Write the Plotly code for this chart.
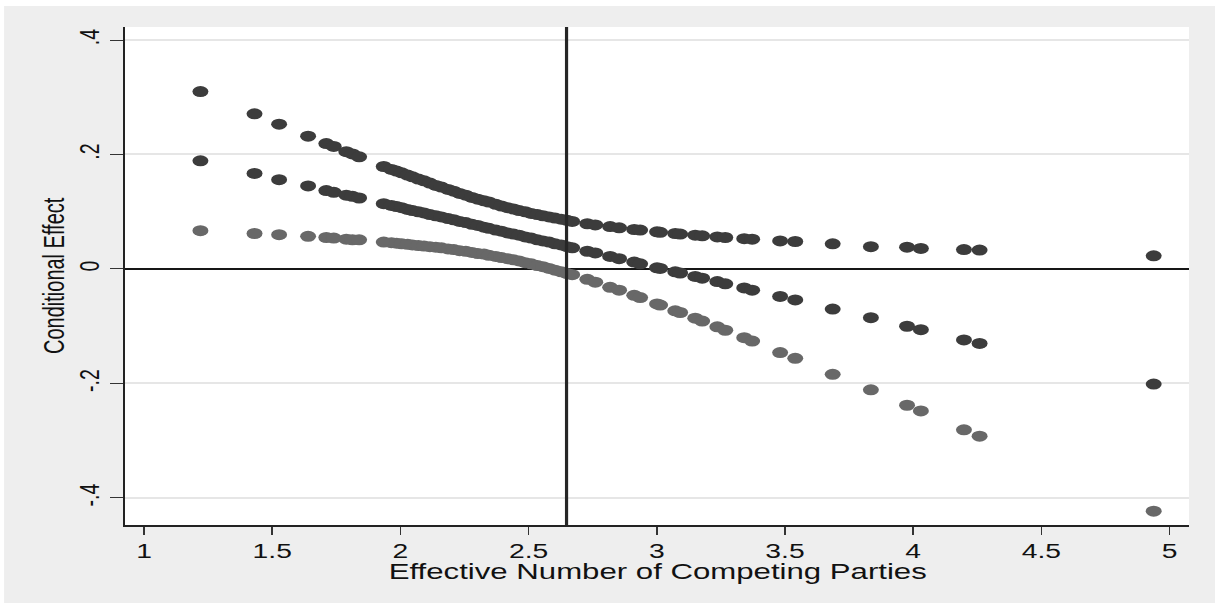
import plotly.graph_objects as go

# Effective number of competing parties (x) and the conditional effect
# with its upper / lower confidence bounds
enp = [1.220, 1.431, 1.527, 1.640, 1.711, 1.740, 1.789, 1.813, 1.839, 1.935,
       1.965, 1.985, 2.005, 2.028, 2.047, 2.070, 2.092, 2.115, 2.138, 2.160,
       2.186, 2.208, 2.231, 2.255, 2.279, 2.302, 2.326, 2.345, 2.372, 2.394,
       2.418, 2.441, 2.463, 2.487, 2.510, 2.534, 2.556, 2.580, 2.603, 2.627,
       2.650, 2.670, 2.729, 2.760, 2.818, 2.853, 2.912, 2.935, 3.001, 3.013,
       3.072, 3.091, 3.150, 3.177, 3.236, 3.267, 3.341, 3.372, 3.481, 3.540,
       3.686, 3.835, 3.976, 4.030, 4.198, 4.259, 4.938]

effect = [0.189, 0.167, 0.156, 0.145, 0.137, 0.134, 0.129, 0.127, 0.124, 0.114,
          0.111, 0.109, 0.107, 0.104, 0.102, 0.100, 0.098, 0.095, 0.093, 0.091,
          0.088, 0.086, 0.083, 0.081, 0.078, 0.076, 0.073, 0.071, 0.068, 0.066,
          0.063, 0.061, 0.059, 0.056, 0.054, 0.051, 0.049, 0.047, 0.044, 0.042,
          0.039, 0.037, 0.031, 0.028, 0.022, 0.018, 0.012, 0.009, 0.002, 0.001,
          -0.005, -0.007, -0.013, -0.016, -0.022, -0.026, -0.033, -0.037, -0.048, -0.054,
          -0.070, -0.085, -0.100, -0.106, -0.124, -0.130, -0.201]

upper = [0.310, 0.271, 0.253, 0.232, 0.219, 0.214, 0.205, 0.201, 0.196, 0.179,
         0.174, 0.171, 0.168, 0.164, 0.161, 0.157, 0.154, 0.150, 0.146, 0.143,
         0.139, 0.136, 0.132, 0.129, 0.125, 0.122, 0.119, 0.117, 0.113, 0.110,
         0.107, 0.105, 0.102, 0.100, 0.097, 0.095, 0.093, 0.091, 0.089, 0.087,
         0.085, 0.083, 0.079, 0.077, 0.074, 0.072, 0.069, 0.068, 0.065, 0.064,
         0.062, 0.061, 0.059, 0.058, 0.056, 0.055, 0.053, 0.052, 0.049, 0.048,
         0.044, 0.039, 0.038, 0.036, 0.034, 0.033, 0.023]

lower = [0.067, 0.062, 0.060, 0.057, 0.055, 0.054, 0.052, 0.051, 0.051, 0.047,
         0.046, 0.045, 0.044, 0.043, 0.042, 0.041, 0.040, 0.039, 0.038, 0.037,
         0.035, 0.034, 0.032, 0.031, 0.029, 0.027, 0.026, 0.024, 0.022, 0.020,
         0.018, 0.016, 0.014, 0.011, 0.009, 0.006, 0.004, 0.001, -0.002, -0.005,
         -0.008, -0.010, -0.018, -0.023, -0.032, -0.037, -0.046, -0.050, -0.061, -0.063,
         -0.073, -0.076, -0.086, -0.091, -0.101, -0.107, -0.120, -0.126, -0.146, -0.156,
         -0.184, -0.211, -0.238, -0.248, -0.281, -0.292, -0.423]

# reference line at the sample mean of the moderator
mean_enp = 2.648

x_ticks = [1, 1.5, 2, 2.5, 3, 3.5, 4, 4.5, 5]
y_ticks = [-0.4, -0.2, 0, 0.2, 0.4]
y_tick_text = ["-.4", "-.2", "0", ".2", ".4"]

# The graph is laid out narrow and then stretched horizontally on the page
STRETCH = 1.45
W, H = 838, 603
ML, MR, MT, MB = 86, 18, 27, 78
PW, PH = W - ML - MR, H - MT - MB

DARK = "#3c3c3c"
LIGHT = "#686868"
FONT = "Liberation Sans, Arial, sans-serif"

fig = go.Figure()
for ys, col in [(upper, DARK), (effect, DARK), (lower, LIGHT)]:
    fig.add_trace(go.Scatter(
        x=enp, y=ys, mode="markers",
        marker=dict(size=11, color=col, line=dict(width=0)),
        showlegend=False, hoverinfo="x+y",
    ))

fig.add_shape(type="line", xref="x", yref="paper", x0=mean_enp, x1=mean_enp,
              y0=0, y1=1, line=dict(color="#262626", width=2.2), layer="above")

# thin white edge along the top and left of the grey graph region
fig.add_shape(type="rect", xref="paper", yref="paper",
              x0=-ML / PW, x1=(W - ML) / PW,
              y0=1 + (MT - 6) / PH, y1=1 + MT / PH + 0.01,
              line=dict(width=0), fillcolor="white", layer="below")
fig.add_shape(type="rect", xref="paper", yref="paper",
              x0=-ML / PW - 0.01, x1=(2.8 - ML) / PW,
              y0=-MB / PH - 0.01, y1=1 + MT / PH + 0.01,
              line=dict(width=0), fillcolor="white", layer="below")

fig.add_annotation(text="Conditional Effect", xref="paper", yref="paper",
                   x=0, y=0.5, xanchor="center", yanchor="middle",
                   xshift=-49, textangle=-90, showarrow=False,
                   font=dict(family=FONT, size=20, color="#111111"))
fig.add_annotation(text="Effective Number of Competing Parties",
                   xref="paper", yref="paper", x=0.5, y=0,
                   xanchor="center", yanchor="top", yshift=-33,
                   showarrow=False,
                   font=dict(family=FONT, size=21.5, color="#111111"))

fig.update_layout(
    template="none",
    width=W, height=H,
    margin=dict(l=ML, r=MR, t=MT, b=MB, pad=0),
    paper_bgcolor="#eeeeee",
    plot_bgcolor="white",
    font=dict(family=FONT, size=19.5, color="#111111"),
    xaxis=dict(
        range=[0.9247, 5.0757], tickvals=x_ticks,
        ticks="outside", ticklen=8, tickwidth=1, tickcolor="#333333",
        showline=True, linecolor="#222222", linewidth=1.5,
        showgrid=False, zeroline=False, mirror=False,
        tickfont=dict(family=FONT, size=19.5, color="#111111"),
    ),
    yaxis=dict(
        range=[-0.4472, 0.4227], tickvals=y_ticks, ticktext=y_tick_text,
        tickangle=-90,
        ticks="outside", ticklen=9, tickwidth=1.2, tickcolor="#333333",
        showline=True, linecolor="#222222", linewidth=1.2,
        showgrid=True, gridcolor="#e6e6e6", gridwidth=1.5,
        zeroline=True, zerolinecolor="#161616", zerolinewidth=2,
        tickfont=dict(family=FONT, size=19.5, color="#111111"),
    ),
)

stretch_js = (
    "var gd = document.getElementById('{plot_id}');"
    "document.body.style.margin = '0';"
    "document.body.style.overflow = 'hidden';"
    "gd.style.transformOrigin = '0 0';"
    "gd.style.transform = 'scaleX(%s)';" % STRETCH
)

fig.write_html("out.html", default_width="%dpx" % W, default_height="%dpx" % H,
               post_script=stretch_js)
